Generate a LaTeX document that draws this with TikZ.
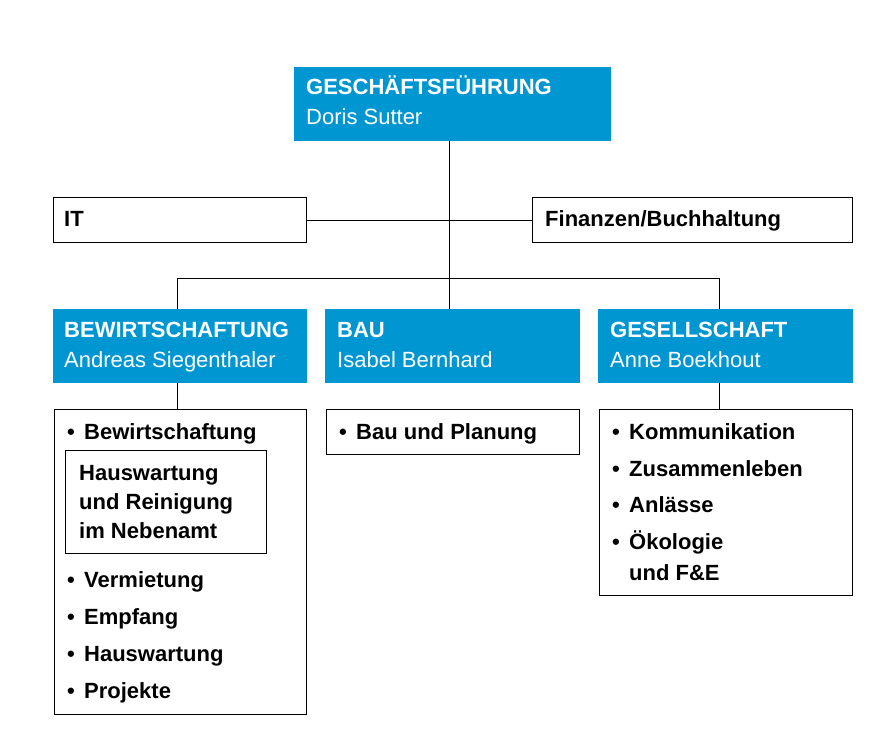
\documentclass[tikz,border=0pt]{standalone}
\usepackage{fontspec}
\setmainfont{Liberation Sans}
\definecolor{hblue}{RGB}{0,150,210}
\begin{document}
\begin{tikzpicture}[x=1pt,y=-1pt,
  bluebox/.style={fill=hblue, draw=none, anchor=north west, inner sep=0pt},
  whitebox/.style={draw=black, line width=1pt, fill=white, anchor=north west, inner sep=0pt},
  ttl/.style={anchor=base west, inner sep=0pt, text=white, font=\fontsize{22}{26}\selectfont\bfseries},
  nam/.style={anchor=base west, inner sep=0pt, text=white, font=\fontsize{22}{26}\selectfont},
  itm/.style={anchor=base west, inner sep=0pt, text=black, font=\fontsize{22}{26}\selectfont\bfseries},
  conn/.style={draw=black, line width=1pt}]
\useasboundingbox (0,0) rectangle (888,746);
% top
\node[bluebox, minimum width=317, minimum height=74] (gf) at (294,67) {};
\node[ttl] (gft) at (306,95) {GESCHÄFTSFÜHRUNG};
\node[nam] (gfn) at (306,125) {Doris Sutter};
% staff
\node[whitebox, minimum width=253, minimum height=45] (it) at (53,197) {};
\node[itm] (itt) at (64,226) {IT};
\node[whitebox, minimum width=320, minimum height=45] (fin) at (532,197) {};
\node[itm] (fint) at (545,226) {Finanzen/Buchhaltung};
% departments
\node[bluebox, minimum width=254, minimum height=74] (bew) at (53,309) {};
\node[ttl] (bewt) at (64,337) {BEWIRTSCHAFTUNG};
\node[nam] (bewn) at (64,367) {Andreas Siegenthaler};
\node[bluebox, minimum width=255, minimum height=74] (bau) at (325,309) {};
\node[ttl] (baut) at (337,337) {BAU};
\node[nam] (baun) at (337,367) {Isabel Bernhard};
\node[bluebox, minimum width=255, minimum height=74] (ges) at (598,309) {};
\node[ttl] (gest) at (610,337) {GESELLSCHAFT};
\node[nam] (gesn) at (610,367) {Anne Boekhout};
% lists
\node[whitebox, minimum width=252, minimum height=305] (bewl) at (54,409) {};
\node[whitebox, minimum width=201, minimum height=103] (inner) at (65,450) {};
\node[whitebox, minimum width=253, minimum height=45] (baul) at (326,409) {};
\node[whitebox, minimum width=253, minimum height=186] (gesl) at (599,409) {};
% connectors
\coordinate (tk) at (449,141);
\coordinate (jl) at (177,278);
\coordinate (jm) at (449,278);
\coordinate (jr) at (719,278);
\coordinate (jit) at (449,219);
\draw[conn] (gf.south -| tk) -- (bau.north -| tk);
\draw[conn] (it.east) -- (fin.west);
\draw[conn] (bew.north -| jl) -- (jl) -- (jr) -- (ges.north -| jr);
\draw[conn] (bew.south -| jl) -- (bewl.north -| jl);
\draw[conn] (ges.south -| jr) -- (gesl.north -| jr);
% list items
\newcommand{\bul}[1]{\makebox[17pt][l]{•}#1}
\node[itm] (b1) at (67,439) {\bul{Bewirtschaftung}};
\node[itm] (i1) at (79,480) {Hauswartung};
\node[itm] (i2) at (79,509) {und Reinigung};
\node[itm] (i3) at (79,538) {im Nebenamt};
\node[itm] (b2) at (67,587) {\bul{Vermietung}};
\node[itm] (b3) at (67,624) {\bul{Empfang}};
\node[itm] (b4) at (67,661) {\bul{Hauswartung}};
\node[itm] (b5) at (67,698) {\bul{Projekte}};
\node[itm] (a1) at (339,439) {\bul{Bau und Planung}};
\node[itm] (g1) at (612,439) {\bul{Kommunikation}};
\node[itm] (g2) at (612,476) {\bul{Zusammenleben}};
\node[itm] (g3) at (612,512) {\bul{Anlässe}};
\node[itm] (g4) at (612,549) {\bul{Ökologie}};
\node[itm] (g5) at (629,580) {und F\&E};
\end{tikzpicture}
\end{document}
